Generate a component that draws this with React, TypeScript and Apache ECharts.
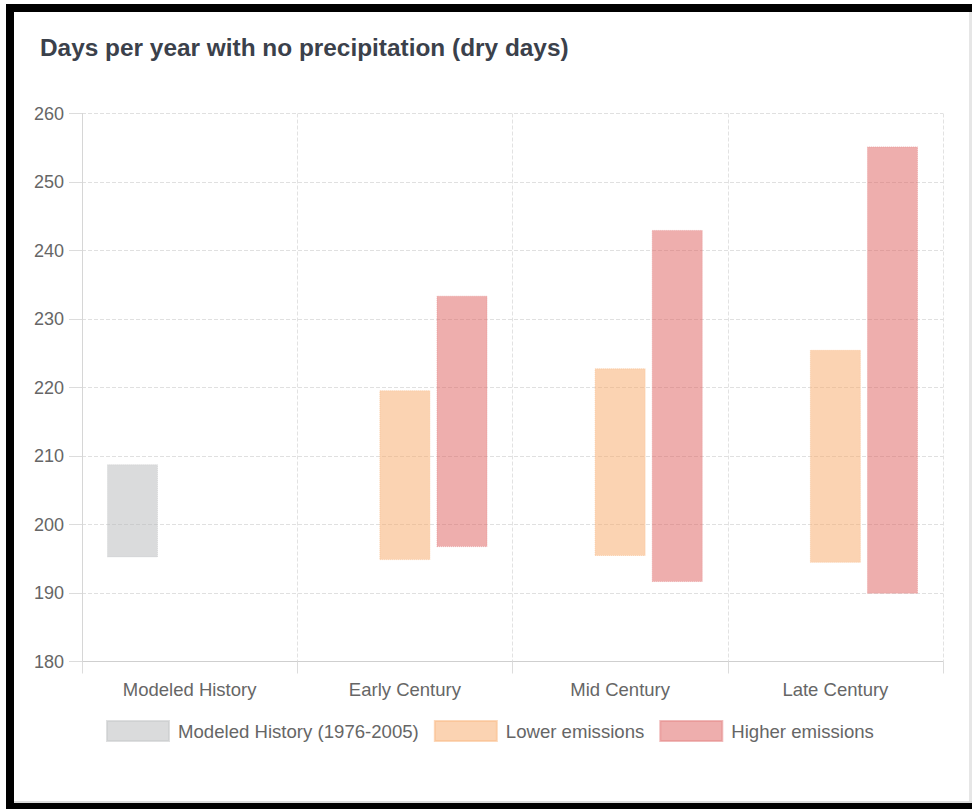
import React, { useEffect, useRef } from "react";
import * as echarts from "echarts";

const categories = ["Modeled History", "Early Century", "Mid Century", "Late Century"];
const seriesNames = ["Modeled History (1976-2005)", "Lower emissions", "Higher emissions"];
const historyLow = [195.2, null, null, null];
const historyHigh = [208.8, null, null, null];
const lowerLow = [null, 194.8, 195.4, 194.4];
const lowerHigh = [null, 219.6, 222.8, 225.5];
const higherLow = [null, 196.7, 191.6, 189.9];
const higherHigh = [null, 233.4, 243.0, 255.2];
const yTicks = { min: 180, max: 260, interval: 10 };

const fills = ["rgba(181,183,185,0.5)", "rgba(247,167,101,0.5)", "rgba(221,93,91,0.5)"];
const borders = ["rgba(200,202,204,0.6)", "rgba(250,190,140,0.6)", "rgba(230,140,140,0.6)"];

const FONT = "'Liberation Sans', Arial, Helvetica, sans-serif";

function diff(lo: (number | null)[], hi: (number | null)[]) {
  return lo.map((v, i) => (v == null || hi[i] == null ? null : +((hi[i] as number) - v).toFixed(2)));
}

export default function App() {
  const ref = useRef<HTMLDivElement>(null);
  useEffect(() => {
    if (!ref.current) return;
    const chart = echarts.init(ref.current, undefined, { renderer: "svg" });
    const groups = [
      { lo: historyLow, hi: historyHigh },
      { lo: lowerLow, hi: lowerHigh },
      { lo: higherLow, hi: higherHigh },
    ];
    const series: any[] = [];
    groups.forEach((g, i) => {
      series.push({
        type: "bar",
        name: "base" + i,
        stack: "s" + i,
        data: g.lo,
        silent: true,
        itemStyle: { color: "transparent" },
        barWidth: 51,
        barGap: "12%",
      });
      series.push({
        type: "bar",
        name: seriesNames[i],
        stack: "s" + i,
        data: diff(g.lo, g.hi),
        itemStyle: {
          color: fills[i],
          borderColor: borders[i],
          borderWidth: 1,
          borderType: "dotted",
        },
        barWidth: 51,
        barGap: "12%",
      });
    });
    chart.setOption({
      animation: false,
      textStyle: { fontFamily: FONT },
      title: {
        text: "Days per year with no precipitation (dry days)",
        left: 35,
        top: 30,
        padding: 5,
        textStyle: { fontSize: 24.4, fontWeight: "bold", color: "#3b414b", fontFamily: FONT },
      },
      legend: {
        data: seriesNames,
        left: 106,
        top: 720,
        padding: 0,
        itemWidth: 62,
        itemHeight: 20,
        itemGap: 15,
        icon: "rect",
        textStyle: { fontSize: 18.6, color: "#666", fontFamily: FONT, padding: [0, 0, 0, 4] },
      },
      grid: { left: 82, right: 29, top: 113.5, bottom: 147.5, containLabel: false },
      xAxis: {
        type: "category",
        data: categories,
        axisLine: { lineStyle: { color: "#cfcfcf", width: 1 } },
        axisTick: { show: true, length: 12, lineStyle: { color: "#dcdcdc" } },
        axisLabel: { fontSize: 18.5, color: "#666", margin: 18, fontFamily: FONT },
        splitLine: { show: true, lineStyle: { color: "#e2e2e2", type: [4, 2] } },
      },
      yAxis: {
        type: "value",
        min: yTicks.min,
        max: yTicks.max,
        interval: yTicks.interval,
        axisLine: { show: true, lineStyle: { color: "#d6d6d6" } },
        axisTick: { show: true, length: 13, lineStyle: { color: "#dcdcdc" } },
        axisLabel: { fontSize: 18, color: "#666", margin: 18, fontFamily: FONT },
        splitLine: { show: true, lineStyle: { color: "#e0e0e0", type: [4, 2] } },
      },
      series,
    });
    return () => chart.dispose();
  }, []);

  return (
    <div style={{ position: "fixed", left: 0, top: 0, width: 972, height: 809, overflow: "hidden", background: "#fff" }}>
      <div
        style={{
          position: "absolute",
          left: 6,
          top: 4,
          width: 990,
          height: 807,
          border: "8px solid #000",
          boxSizing: "border-box",
        }}
      />
      <div style={{ position: "absolute", left: 969, top: 12, width: 3, height: 791, background: "#e6e6e6" }} />
      <div style={{ position: "absolute", left: 14, top: 801, width: 958, height: 2, background: "#dcdcdc" }} />
      <div ref={ref} style={{ position: "absolute", left: 0, top: 0, width: 972, height: 809 }} />
    </div>
  );
}
